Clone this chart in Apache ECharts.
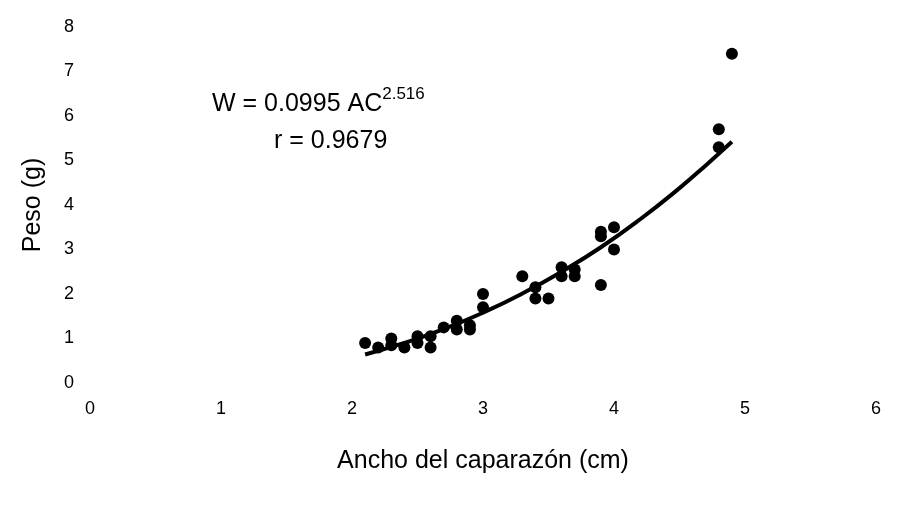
<!DOCTYPE html>
<html>
<head>
<meta charset="utf-8">
<script src="https://cdn.jsdelivr.net/npm/echarts@6/dist/echarts.min.js"></script>
<style>
  html, body { margin: 0; padding: 0; background: #fff; }
  #main { width: 898px; height: 506px; }
</style>
</head>
<body>
<div id="main"></div>
<script>
// measured crabs: carapace width (cm) and weight (g)
var anchoObs = [2.1, 2.2, 2.3, 2.3, 2.4, 2.5, 2.5, 2.6, 2.6, 2.7, 2.8, 2.8, 2.9, 2.9, 3.0, 3.0,
                3.3, 3.4, 3.4, 3.5, 3.6, 3.6, 3.7, 3.7, 3.9, 3.9, 3.9, 4.0, 4.0, 4.8, 4.8, 4.9];
var pesoObs  = [0.9, 0.8, 1.0, 0.85, 0.8, 1.05, 0.9, 1.05, 0.8, 1.25, 1.4, 1.2, 1.3, 1.2, 2.0, 1.7,
                2.4, 2.15, 1.9, 1.9, 2.6, 2.4, 2.55, 2.4, 3.4, 3.3, 2.2, 3.5, 3.0, 5.7, 5.3, 7.4];

// fitted curve
var anchoCurva = [2.1, 2.4, 2.7, 3.0, 3.3, 3.6, 3.9, 4.2, 4.5, 4.7, 4.9];
var pesoCurva  = [0.64, 0.90, 1.21, 1.58, 2.01, 2.50, 3.05, 3.68, 4.38, 4.89, 5.42];

var xTicks = [0, 6, 1];   // min, max, interval
var yTicks = [0, 8, 1];

var puntos = anchoObs.map(function (x, i) { return [x, pesoObs[i]]; });
var curva = anchoCurva.map(function (x, i) { return [x, pesoCurva[i]]; });

var myChart = echarts.init(document.getElementById('main'));
var option = {
    backgroundColor: '#fff',
    animation: false,
    textStyle: { fontFamily: 'Liberation Sans, Arial, sans-serif' },
    grid: { left: 90, right: 22, top: 27, bottom: 123 },
    xAxis: {
        type: 'value',
        min: xTicks[0], max: xTicks[1], interval: xTicks[2],
        name: 'Ancho del caparazón (cm)',
        nameLocation: 'middle',
        nameGap: 66,
        nameTextStyle: { fontSize: 25, color: '#000' },
        axisLine: { show: false },
        axisTick: { show: false },
        splitLine: { show: false },
        axisLabel: { fontSize: 18, color: '#000', margin: 17 }
    },
    yAxis: {
        type: 'value',
        min: yTicks[0], max: yTicks[1], interval: yTicks[2],
        name: 'Peso (g)',
        nameLocation: 'middle',
        nameGap: 44,
        nameRotate: 90,
        nameTextStyle: { fontSize: 25, color: '#000' },
        axisLine: { show: false },
        axisTick: { show: false },
        splitLine: { show: false },
        axisLabel: { fontSize: 18, color: '#000', margin: 16 }
    },
    graphic: [
        {
            type: 'text',
            left: 212, top: 86,
            style: {
                text: '{m|W = 0.0995 AC}{s|2.516}',
                rich: {
                    m: { fontSize: 25, fill: '#000', fontFamily: 'Liberation Sans', verticalAlign: 'bottom' },
                    s: { fontSize: 17, fill: '#000', fontFamily: 'Liberation Sans', verticalAlign: 'top', padding: [0, 0, 14, 0] }
                }
            }
        },
        {
            type: 'text',
            left: 274, top: 129,
            style: { text: 'r = 0.9679', fontSize: 25, fill: '#000', fontFamily: 'Liberation Sans' }
        }
    ],
    series: [
        {
            type: 'line',
            data: curva,
            smooth: true,
            symbol: 'none',
            lineStyle: { color: '#000', width: 4 },
            z: 2
        },
        {
            type: 'scatter',
            data: puntos,
            symbol: 'circle',
            symbolSize: 12,
            itemStyle: { color: '#000', opacity: 1 },
            z: 3
        }
    ]
};
myChart.setOption(option);
</script>
</body>
</html>
